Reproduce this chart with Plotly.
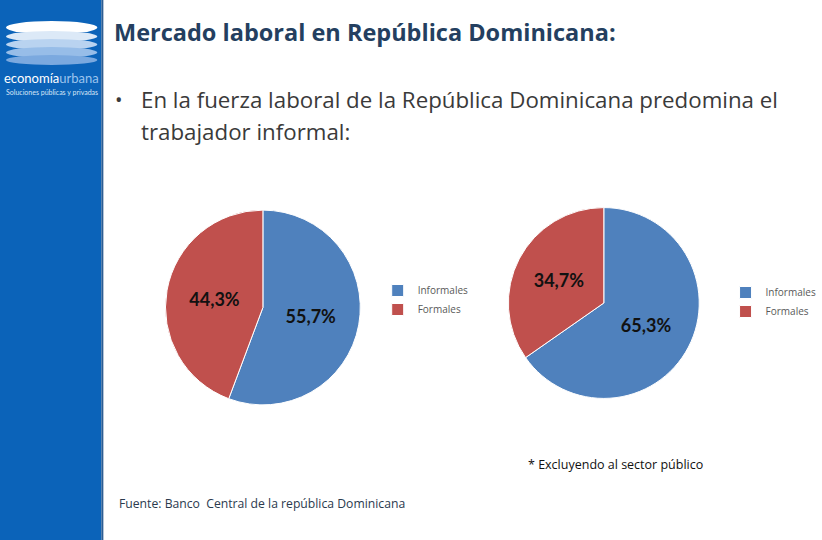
import plotly.graph_objects as go

# ---- data ----
categories = ["Informales", "Formales"]
pie1_values = [55.7, 44.3]
pie2_values = [65.3, 34.7]
colors = ["#4F81BD", "#C0504D"]

title_text = "Mercado laboral en República Dominicana:"
bullet_line1 = "En la fuerza laboral de la República Dominicana predomina el"
bullet_line2 = "trabajador informal:"
footnote_text = "* Excluyendo al sector público"
source_text = "Fuente: Banco  Central de la república Dominicana"

W, H = 822, 540


def px(x):
    return x / W


def py(y):
    return 1 - y / H


def pie_domain(cx, cy, r):
    return dict(x=[px(cx - r), px(cx + r)], y=[py(cy + r), py(cy - r)])


fig = go.Figure()

fig.add_trace(go.Pie(
    labels=categories, values=pie1_values, sort=False, direction="clockwise",
    rotation=0, marker=dict(colors=colors, line=dict(color="white", width=1)),
    domain=pie_domain(264.5, 307.5, 98),
    texttemplate="%{percent:.1%}", textposition="inside",
    insidetextorientation="horizontal",
    textfont=dict(family="Lato", size=18, color="#111111", weight="bold"),
    hoverinfo="label+percent", legend="legend", legendgroup="p1",
))

fig.add_trace(go.Pie(
    labels=categories, values=pie2_values, sort=False, direction="clockwise",
    rotation=0, marker=dict(colors=colors, line=dict(color="white", width=1)),
    domain=pie_domain(607.5, 303, 96),
    texttemplate="%{percent:.1%}", textposition="inside",
    insidetextorientation="horizontal",
    textfont=dict(family="Lato", size=18, color="#111111", weight="bold"),
    hoverinfo="label+percent", legend="legend2", legendgroup="p2",
))

legend_common = dict(
    font=dict(family="Open Sans", size=10, color="#595959"),
    bgcolor="rgba(0,0,0,0)", xanchor="left", yanchor="top",
    itemwidth=30, tracegroupgap=0,
)

shapes = [
    dict(type="rect", xref="paper", yref="paper", x0=0, x1=px(102), y0=0, y1=1,
         fillcolor="#0B63B9", line=dict(width=0), layer="below"),
    dict(type="rect", xref="paper", yref="paper", x0=px(102), x1=px(104), y0=0, y1=1,
         fillcolor="#2E5E92", line=dict(width=0), layer="below"),
]
# logo ellipses
ell = [(21, 34, "#FFFFFF"), (31, 42, "#DCE9F7"), (39, 50, "#B9D3F0"),
       (47, 58, "#97BDE8"), (55, 65, "#7BA9DF")]
for y0, y1, c in ell:
    shapes.append(dict(type="circle", xref="paper", yref="paper",
                       x0=px(6), x1=px(98), y0=py(y1), y1=py(y0),
                       fillcolor=c, line=dict(width=0)))

annotations = [
    dict(text="economía<span style='color:#9CC3EE'>urbana</span>", x=px(52), y=py(78),
         xref="paper", yref="paper", showarrow=False, xanchor="center", yanchor="middle",
         font=dict(family="Lato", size=13, color="white")),
    dict(text="Soluciones públicas y privadas", x=px(52), y=py(92),
         xref="paper", yref="paper", showarrow=False, xanchor="center", yanchor="middle",
         font=dict(family="Lato", size=7, color="#D6E6F7")),
    dict(text=title_text, x=px(113), y=py(32), xref="paper", yref="paper",
         showarrow=False, xanchor="left", yanchor="middle",
         font=dict(family="Open Sans", size=23.5, color="#243F60", weight="bold")),
    dict(text="•", x=px(114), y=py(100), xref="paper", yref="paper",
         showarrow=False, xanchor="left", yanchor="middle",
         font=dict(family="Open Sans", size=20, color="#3A3A3A")),
    dict(text=bullet_line1, x=px(140), y=py(100), xref="paper", yref="paper",
         showarrow=False, xanchor="left", yanchor="middle",
         font=dict(family="Open Sans", size=22.3, color="#3A3A3A")),
    dict(text=bullet_line2, x=px(140), y=py(131), xref="paper", yref="paper",
         showarrow=False, xanchor="left", yanchor="middle",
         font=dict(family="Open Sans", size=22.3, color="#3A3A3A")),
    dict(text=footnote_text, x=px(529), y=py(464), xref="paper", yref="paper",
         showarrow=False, xanchor="left", yanchor="middle",
         font=dict(family="Open Sans", size=12.5, color="#111111")),
    dict(text=source_text, x=px(118), y=py(503), xref="paper", yref="paper",
         showarrow=False, xanchor="left", yanchor="middle",
         font=dict(family="Open Sans", size=12.2, color="#2B3A4E")),
]

fig.update_layout(
    width=W, height=H, autosize=False,
    margin=dict(l=0, r=0, t=0, b=0),
    paper_bgcolor="white", plot_bgcolor="white",
    separators=",.",
    showlegend=True,
    legend=dict(x=px(380), y=py(276), **legend_common),
    legend2=dict(x=px(730), y=py(278), **legend_common),
    shapes=shapes,
    annotations=annotations,
)

fig.write_html("out.html", config={"displayModeBar": False},
               post_script="document.body.style.margin='0';")
